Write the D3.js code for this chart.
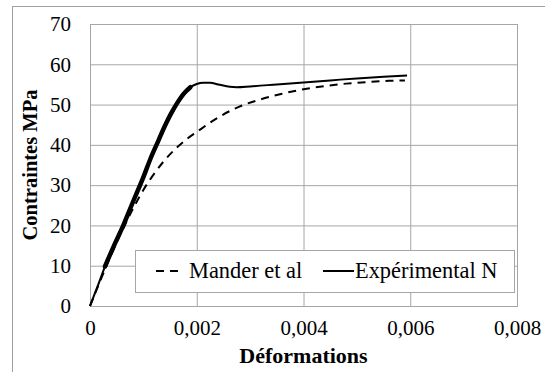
<!DOCTYPE html>
<html>
<head>
<meta charset="utf-8">
<script src="https://cdn.jsdelivr.net/npm/d3@7"></script>
<style>
  html, body { margin: 0; padding: 0; background: #fff; }
  svg { display: block; }
</style>
</head>
<body>
<svg id="chart" width="545" height="372"></svg>
<script>
// Stress–strain data (strain, stress in MPa)
const experimentalStrain = [0, 0.00014, 0.00028, 0.00045, 0.00062, 0.00081, 0.00100, 0.00114, 0.00128, 0.00140,
  0.00152, 0.00163, 0.00175, 0.00188, 0.00200, 0.00212, 0.00225, 0.00240, 0.00262, 0.00275,
  0.00300, 0.00350, 0.00400, 0.00450, 0.00500, 0.00550, 0.00594];
const experimentalStress = [0, 4.8, 9.8, 15.0, 19.9, 26.0, 32.0, 36.8, 41.0, 44.6,
  47.8, 50.3, 52.6, 54.3, 55.1, 55.4, 55.4, 55.0, 54.4, 54.3,
  54.5, 55.0, 55.5, 56.0, 56.5, 56.9, 57.2];

const manderStrain = [0, 0.0002, 0.0004, 0.0006, 0.0008, 0.0010, 0.0012, 0.0014, 0.0016, 0.0018,
  0.0020, 0.0024, 0.0028, 0.0032, 0.0036, 0.0040, 0.0044, 0.0048, 0.0052, 0.0056, 0.0059];
const manderStress = [0, 6.5, 12.8, 18.6, 24.0, 28.8, 32.8, 36.2, 39.0, 41.3,
  43.2, 46.8, 49.5, 51.3, 52.7, 53.8, 54.6, 55.2, 55.6, 55.9, 56.0];

// Axis ticks and labels
const xTicks = [0, 0.002, 0.004, 0.006, 0.008];
const xTickLabels = ["0", "0,002", "0,004", "0,006", "0,008"];
const yTicks = [0, 10, 20, 30, 40, 50, 60, 70];
const yTickLabels = ["0", "10", "20", "30", "40", "50", "60", "70"];

const seriesNames = ["Mander et al", "Expérimental N"];
const xTitle = "Déformations";
const yTitle = "Contraintes MPa";

const FONT = '"Liberation Serif"';

const svg = d3.select("#chart");
const margin = { left: 90, top: 24, right: 28, bottom: 66 };
const W = 545, H = 372;
const plotW = W - margin.left - margin.right;   // 427
const plotH = H - margin.top - margin.bottom;   // 282

const x = d3.scaleLinear().domain([0, 0.008]).range([0, plotW]);
const y = d3.scaleLinear().domain([0, 70]).range([plotH, 0]);

// Outer chart frame
svg.append("rect")
  .attr("x", 12.5).attr("y", 6.5)
  .attr("width", 600).attr("height", 500)
  .attr("fill", "none").attr("stroke", "#a0a0a0").attr("stroke-width", 1);

const g = svg.append("g").attr("transform", `translate(${margin.left},${margin.top})`);

function styleText(sel, size, bold) {
  sel.style("font-family", FONT)
    .style("font-size", size + "px")
    .style("font-weight", bold ? "bold" : "normal")
    .attr("fill", "#000");
}

// Y axis with gridlines
const yAxis = g.append("g")
  .call(d3.axisLeft(y).tickValues(yTicks)
    .tickFormat((d, i) => yTickLabels[i])
    .tickSizeInner(-plotW).tickSizeOuter(0).tickPadding(19));
yAxis.attr("font-family", null).attr("font-size", null);
yAxis.select(".domain").remove();
yAxis.selectAll("line").attr("stroke", "#a6a6a6").attr("stroke-width", 1);
styleText(yAxis.selectAll("text"), 21, false);

// X axis with gridlines
const xAxis = g.append("g")
  .attr("transform", `translate(0,${plotH})`)
  .call(d3.axisBottom(x).tickValues(xTicks)
    .tickFormat((d, i) => xTickLabels[i])
    .tickSizeInner(-plotH).tickSizeOuter(0).tickPadding(14));
xAxis.attr("font-family", null).attr("font-size", null);
xAxis.select(".domain").remove();
xAxis.selectAll("line").attr("stroke", "#a6a6a6").attr("stroke-width", 1);
styleText(xAxis.selectAll("text"), 21, false);

// Plot area border
g.append("rect")
  .attr("x", 0.5).attr("y", 0.5)
  .attr("width", plotW).attr("height", plotH)
  .attr("fill", "none").attr("stroke", "#a6a6a6").attr("stroke-width", 1);

// Curves
const line = d3.line().x(d => x(d[0])).y(d => y(d[1])).curve(d3.curveMonotoneX);
const manderData = manderStrain.map((s, i) => [s, manderStress[i]]);
const expData = experimentalStrain.map((s, i) => [s, experimentalStress[i]]);

g.append("path").datum(manderData)
  .attr("d", line)
  .attr("fill", "none").attr("stroke", "#000")
  .attr("stroke-width", 2).attr("stroke-dasharray", "8,6");

g.append("path").datum(expData)
  .attr("d", line)
  .attr("fill", "none").attr("stroke", "#000")
  .attr("stroke-width", 2);

// Dense, scattered loading branch of the measured curve
g.append("path").datum(expData.filter(d => d[0] >= 0.00028 && d[0] <= 0.00190))
  .attr("d", line)
  .attr("fill", "none").attr("stroke", "#000")
  .attr("stroke-width", 4.5).attr("stroke-linecap", "round");

// Legend
const leg = svg.append("g");
leg.append("rect")
  .attr("x", 135.5).attr("y", 250.5).attr("width", 379).attr("height", 42)
  .attr("fill", "#fff").attr("stroke", "#a6a6a6").attr("stroke-width", 1);
leg.append("line")
  .attr("x1", 156).attr("x2", 182).attr("y1", 271).attr("y2", 271)
  .attr("stroke", "#000").attr("stroke-width", 2).attr("stroke-dasharray", "8,6");
styleText(leg.append("text").attr("x", 189).attr("y", 277.5).text(seriesNames[0]), 22.4, false);
leg.append("line")
  .attr("x1", 323).attr("x2", 354).attr("y1", 271).attr("y2", 271)
  .attr("stroke", "#000").attr("stroke-width", 2);
styleText(leg.append("text").attr("x", 355).attr("y", 277.5).text(seriesNames[1]), 22.4, false);

// Axis titles
styleText(svg.append("text")
  .attr("x", margin.left + plotW / 2).attr("y", 363)
  .attr("text-anchor", "middle")
  .text(xTitle), 22, true);

styleText(svg.append("text")
  .attr("transform", `translate(37,${margin.top + plotH / 2}) rotate(-90)`)
  .attr("text-anchor", "middle")
  .text(yTitle), 20.5, true);
</script>
</body>
</html>
